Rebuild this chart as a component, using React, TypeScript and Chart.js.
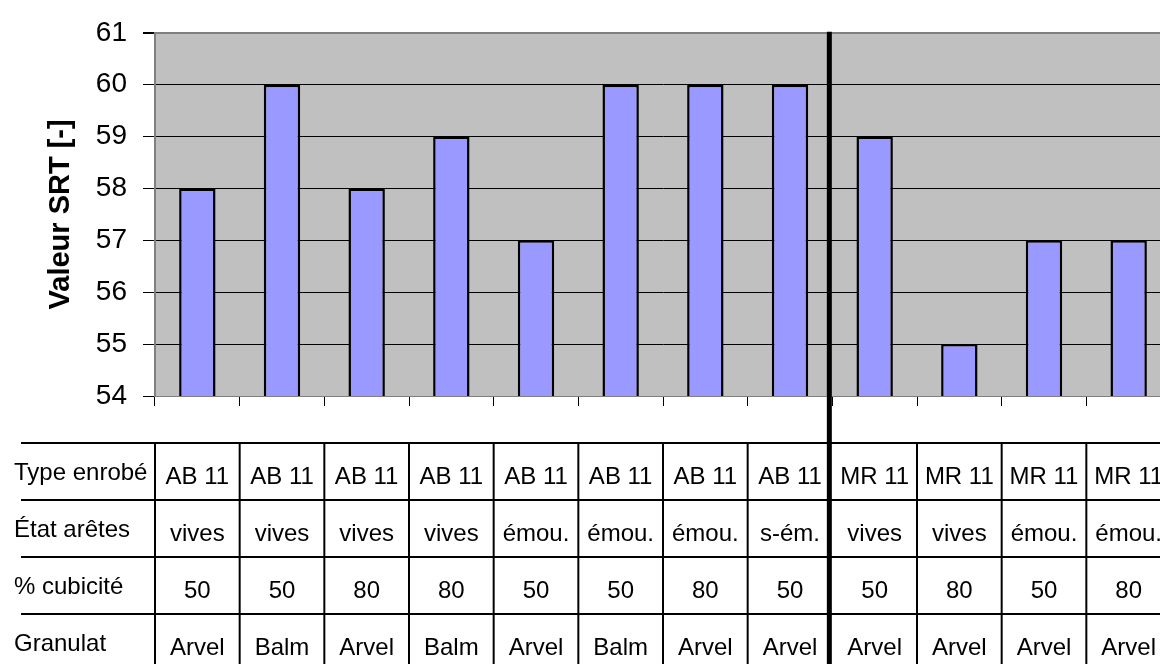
import React, { useEffect, useRef } from "react";
import { Chart, registerables } from "chart.js";

Chart.register(...registerables);

const typeEnrobe = ["AB 11", "AB 11", "AB 11", "AB 11", "AB 11", "AB 11", "AB 11", "AB 11", "MR 11", "MR 11", "MR 11", "MR 11"];
const etatAretes = ["vives", "vives", "vives", "vives", "émou.", "émou.", "émou.", "s-ém.", "vives", "vives", "émou.", "émou."];
const cubicite = ["50", "50", "80", "80", "50", "50", "80", "50", "50", "80", "50", "80"];
const granulat = ["Arvel", "Balm", "Arvel", "Balm", "Arvel", "Balm", "Arvel", "Arvel", "Arvel", "Arvel", "Arvel", "Arvel"];
const rowLabels = ["Type enrobé", "État arêtes", "% cubicité", "Granulat"];
const srtValues = [58, 60, 58, 59, 57, 60, 60, 60, 59, 55, 57, 57];
const categories = typeEnrobe.map((t, i) => `${t} ${etatAretes[i]} ${cubicite[i]} ${granulat[i]}`);
const yMin = 54;
const yMax = 61;
const separatorAfterIndex = 7;
const axisTitle = "Valeur SRT [-]";

const FONT = "'Liberation Sans', Arial, Helvetica, sans-serif";

const bgPlugin = {
  id: "plotBg",
  beforeDraw(chart: any) {
    const { ctx, chartArea } = chart;
    ctx.save();
    ctx.fillStyle = "#C0C0C0";
    ctx.fillRect(chartArea.left, chartArea.top, chartArea.right - chartArea.left, chartArea.bottom - chartArea.top);
    ctx.restore();
  },
};

const tablePlugin = {
  id: "dataTable",
  afterDraw(chart: any) {
    const { ctx, chartArea } = chart;
    const x = chart.scales.x;
    const W = chart.width;
    const H = chart.height;
    const n = categories.length;
    const half = (x.getPixelForValue(1) - x.getPixelForValue(0)) / 2;
    const rowLines = [443, 500, 557, 614];
    const rows = [typeEnrobe, etatAretes, cubicite, granulat];
    ctx.save();
    ctx.strokeStyle = "#000";
    ctx.lineWidth = 2;
    rowLines.forEach((y) => {
      ctx.beginPath();
      ctx.moveTo(21, y);
      ctx.lineTo(W, y);
      ctx.stroke();
    });
    for (let i = 0; i < n; i++) {
      const bx = x.getPixelForValue(i) - half;
      if (i === separatorAfterIndex + 1) continue;
      ctx.beginPath();
      ctx.moveTo(bx, rowLines[0]);
      ctx.lineTo(bx, H);
      ctx.stroke();
    }
    const sx = x.getPixelForValue(separatorAfterIndex) + half - 3;
    ctx.lineWidth = 5;
    ctx.beginPath();
    ctx.moveTo(sx, chartArea.top - 1);
    ctx.lineTo(sx, H);
    ctx.stroke();
    ctx.fillStyle = "#000";
    ctx.font = `24px ${FONT}`;
    ctx.textBaseline = "middle";
    for (let r = 0; r < rows.length; r++) {
      const top = rowLines[r];
      const bottom = r + 1 < rowLines.length ? rowLines[r + 1] : top + 57;
      const cy = (top + bottom) / 2;
      ctx.textAlign = "left";
      ctx.fillText(rowLabels[r], 14, cy + 2);
      ctx.textAlign = "center";
      for (let i = 0; i < n; i++) {
        ctx.fillText(rows[r][i], x.getPixelForValue(i), cy + 6);
      }
    }
    ctx.restore();
  },
};

export default function App() {
  const ref = useRef<HTMLCanvasElement>(null);
  useEffect(() => {
    if (!ref.current) return;
    const chart = new Chart(ref.current, {
      type: "bar",
      data: {
        labels: categories,
        datasets: [
          {
            data: srtValues,
            backgroundColor: "#9999FF",
            borderColor: "#000000",
            borderWidth: 2.5,
            barPercentage: 0.43,
            categoryPercentage: 1,
          },
        ],
      },
      options: {
        animation: false,
        responsive: false,
        maintainAspectRatio: false,
        layout: { padding: { top: 28, left: 0, right: 9, bottom: 0 } },
        plugins: { legend: { display: false }, tooltip: { enabled: false } },
        scales: {
          x: {
            ticks: { display: false },
            grid: {
              drawOnChartArea: false,
              drawTicks: true,
              tickLength: 10,
              tickColor: "#000",
              tickWidth: 1,
              offset: true,
            },
            border: { display: true, color: "#808080", width: 1 },
            afterFit: (scale: any) => {
              scale.height = 268;
            },
          },
          y: {
            min: yMin,
            max: yMax,
            ticks: {
              stepSize: 1,
              color: "#000",
              padding: 16,
              font: { family: FONT, size: 28 },
            },
            grid: {
              color: (c: any) => (c.tick && (c.tick.value === yMax || c.tick.value === yMin) ? "#808080" : "#000"),
              lineWidth: (c: any) => (c.tick && c.tick.value === yMax ? 2 : 1),
              tickColor: "#000",
              tickLength: 12,
              drawTicks: true,
            },
            border: { display: true, color: "#808080", width: 2 },
            title: {
              display: true,
              text: axisTitle,
              color: "#000",
              font: { family: FONT, size: 29, weight: "bold" },
              padding: { top: 44, bottom: 0 },
            },
            afterFit: (scale: any) => {
              scale.width = 155;
            },
          },
        },
      },
      plugins: [bgPlugin, tablePlugin],
    });
    return () => chart.destroy();
  }, []);
  return (
    <div style={{ position: "fixed", left: 0, top: 0, width: 1160, height: 664, overflow: "hidden", background: "#fff" }}>
      <canvas ref={ref} width={1180} height={664} style={{ display: "block", width: 1180, height: 664 }} />
    </div>
  );
}
